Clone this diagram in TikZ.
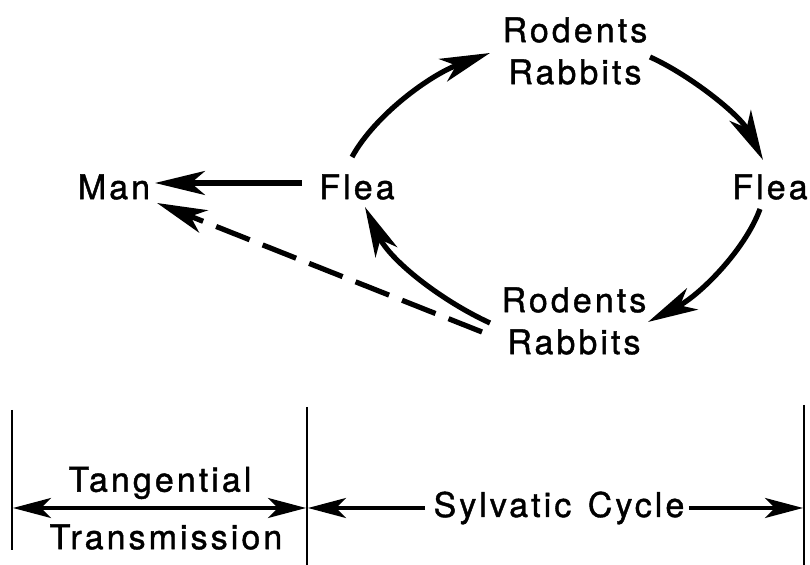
\documentclass[tikz,border=0pt]{standalone}
\usepackage{fontspec}
\setmainfont{TeX Gyre Heros}[LetterSpace=9, FakeBold=1.2]
\usetikzlibrary{arrows.meta}
\begin{document}
\begin{tikzpicture}[x=0.5pt,y=-0.5pt,
  lbl/.style={inner sep=0pt, align=center, font=\fontsize{17}{21}\selectfont},
  arr/.style={line width=2.6pt, -{Stealth[length=25pt,width=12pt,inset=7pt]}},
  darr/.style={arr, dash pattern=on 18pt off 7pt},
  btip/.tip={Stealth[length=19pt,width=10pt,inset=5pt]},
  barr/.style={line width=1.7pt, -btip},
  bar/.style={line width=1pt}]
\useasboundingbox (0,0) rectangle (810,565);
% nodes
\node[lbl] (rodT) at (575,51) {Rodents\\Rabbits};
\node[lbl] (rodB) at (574,321) {Rodents\\Rabbits};
\node[lbl] (fleaL) at (357,187) {Flea};
\node[lbl] (fleaR) at (770,187) {Flea};
\node[lbl] (man) at (114,187) {Man};
% connectors
\draw[arr] ([shift={(-55,-4)}]fleaL.center) -- ([shift={(41,-4)}]man.center);
\draw[darr] ([shift={(-92,11)}]rodB.center) -- ([shift={(43,16)}]man.center);
\draw[arr] ([shift={(-84,2)}]rodB.center) .. controls ([shift={(-134,-21)}]rodB.center) and ([shift={(-184,-61)}]rodB.center) .. ([shift={(8,20)}]fleaL.center);
\draw[arr] ([shift={(-5,-30)}]fleaL.center) .. controls ([shift={(18,-72)}]fleaL.center) and ([shift={(73,-112)}]fleaL.center) .. ([shift={(-85,2)}]rodT.center);
\draw[arr] ([shift={(75,6)}]rodT.center) .. controls ([shift={(115,24)}]rodT.center) and ([shift={(165,64)}]rodT.center) .. ([shift={(-7,-27)}]fleaR.center);
\draw[arr] ([shift={(-10,22)}]fleaR.center) .. controls ([shift={(-25,63)}]fleaR.center) and ([shift={(-70,108)}]fleaR.center) .. ([shift={(74,1)}]rodB.center);
% bottom scale
\coordinate (b1t) at (12,410); \coordinate (b1b) at (12,550);
\coordinate (b2t) at (307,407); \coordinate (b2b) at (307,565);
\coordinate (b3t) at (804,405); \coordinate (b3b) at (804,565);
\draw[bar] (b1t) -- (b1b);
\draw[bar] (b2t) -- (b2b);
\draw[bar] (b3t) -- (b3b);
\node[lbl] (tang) at (160,483) {Tangential};
\node[lbl] (trans) at (166,537) {Transmission};
\node[lbl] (syl) at (559,508) {Sylvatic\hspace{2pt} Cycle};
\coordinate (aL) at (13,508); \coordinate (aM1) at (306,508); \coordinate (aM2) at (308,508); \coordinate (aR) at (803,508);
\draw[barr, btip-btip] (aL) -- (aM1);
\draw[barr] ([xshift=-4pt]syl.west) -- (aM2);
\draw[barr] ([xshift=2pt]syl.east) -- (aR);
\end{tikzpicture}
\end{document}
